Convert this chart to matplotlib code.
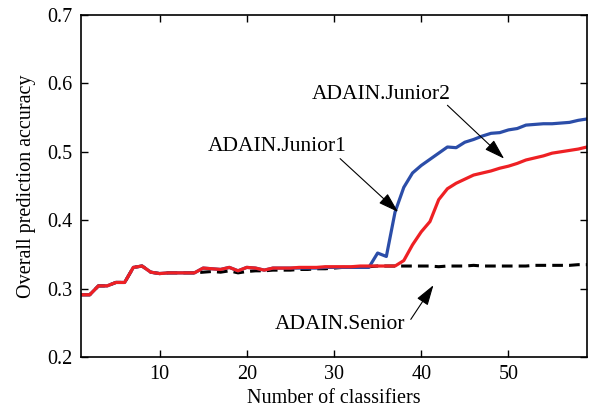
import matplotlib.pyplot as plt
import numpy as np

# number of classifiers 1..59
n_classifiers = np.arange(1, 60)

junior1 = [0.291, 0.291, 0.304, 0.304, 0.309, 0.309, 0.331, 0.333, 0.324, 0.322,
           0.323, 0.323, 0.323, 0.323, 0.330, 0.329, 0.328, 0.331, 0.326, 0.331,
           0.330, 0.327, 0.330, 0.330, 0.330, 0.331, 0.331, 0.331, 0.332, 0.332,
           0.332, 0.332, 0.333, 0.333, 0.333, 0.333, 0.333, 0.341, 0.364, 0.383,
           0.398, 0.430, 0.446, 0.454, 0.460, 0.466, 0.469, 0.472, 0.476, 0.479,
           0.483, 0.488, 0.491, 0.494, 0.498, 0.500, 0.502, 0.504, 0.507]

junior2 = [0.291, 0.291, 0.304, 0.304, 0.309, 0.309, 0.331, 0.333, 0.324, 0.322,
           0.323, 0.323, 0.323, 0.323, 0.330, 0.329, 0.328, 0.331, 0.326, 0.331,
           0.330, 0.327, 0.330, 0.330, 0.330, 0.330, 0.330, 0.330, 0.331, 0.331,
           0.331, 0.331, 0.331, 0.331, 0.352, 0.347, 0.412, 0.448, 0.469, 0.480,
           0.489, 0.498, 0.507, 0.506, 0.514, 0.518, 0.523, 0.527, 0.528, 0.532,
           0.534, 0.539, 0.540, 0.541, 0.541, 0.542, 0.543, 0.546, 0.548]

senior = [0.291, 0.291, 0.304, 0.304, 0.309, 0.309, 0.331, 0.333, 0.324, 0.322,
          0.323, 0.323, 0.323, 0.323, 0.324, 0.325, 0.324, 0.326, 0.323, 0.325,
          0.326, 0.326, 0.327, 0.327, 0.327, 0.328, 0.328, 0.329, 0.329, 0.330,
          0.331, 0.331, 0.332, 0.332, 0.333, 0.333, 0.333, 0.333, 0.333, 0.333,
          0.333, 0.332, 0.333, 0.333, 0.333, 0.334, 0.333, 0.333, 0.333, 0.333,
          0.333, 0.333, 0.334, 0.334, 0.334, 0.334, 0.334, 0.335, 0.335]

plt.rcParams['font.family'] = ['Liberation Serif', 'DejaVu Serif']

fig = plt.figure(figsize=(5.9, 4.16), dpi=100)
ax = fig.add_axes([0.1373, 0.1418, 0.8576, 0.8222])

ax.plot(n_classifiers, senior, color='black', lw=2.2, linestyle=(0, (3.5, 2)))
ax.plot(n_classifiers, junior2, color='#2b4da8', lw=2.3)
ax.plot(n_classifiers, junior1, color='#ee2024', lw=2.3)

ax.set_xlim(1, 59)
ax.set_ylim(0.2, 0.7)
ax.set_xticks([10, 20, 30, 40, 50])
ax.set_yticks([0.2, 0.3, 0.4, 0.5, 0.6, 0.7])
ax.set_yticklabels(['0.2', '0.3', '0.4', '0.5', '0.6', '0.7'])
ax.tick_params(direction='in', top=True, right=True, labelsize=14.5,
               length=5, width=1, pad=6)
for s in ax.spines.values():
    s.set_linewidth(1.2)

ax.set_xlabel('Number of classifiers', fontsize=14.5, labelpad=3)
ax.set_ylabel('Overall prediction accuracy', fontsize=14.5, labelpad=8)

arrow = dict(arrowstyle='-|>,head_length=0.7,head_width=0.22', color='black',
             lw=0.8, mutation_scale=18, shrinkA=0, shrinkB=0)
# arrows (tip, tail)
ax.annotate('', xy=(49.5, 0.490), xytext=(43.0, 0.568), arrowprops=arrow)
ax.annotate('', xy=(37.35, 0.412), xytext=(30.7, 0.490), arrowprops=arrow)
ax.annotate('', xy=(41.4, 0.305), xytext=(38.8, 0.255), arrowprops=arrow)

ax.text(35.4, 0.577, 'ADAIN.Junior2', fontsize=15.5, ha='center', va='baseline')
ax.text(23.5, 0.501, 'ADAIN.Junior1', fontsize=15.5, ha='center', va='baseline')
ax.text(30.7, 0.2405, 'ADAIN.Senior', fontsize=15.5, ha='center', va='baseline')

fig.savefig('out.png', dpi=100)
